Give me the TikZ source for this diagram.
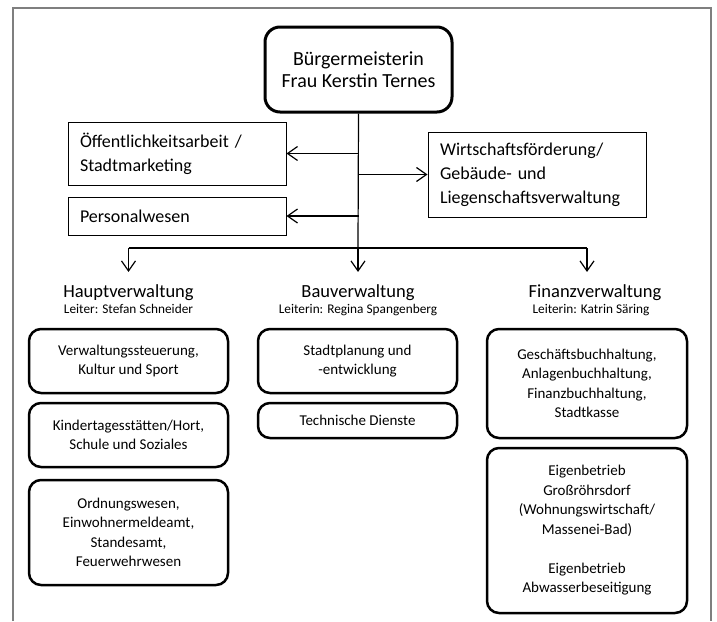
\documentclass[tikz,border=0pt]{standalone}
\usepackage{fontspec}
\setmainfont{Carlito}
\definecolor{orgGray}{HTML}{7F7F7F}
\usetikzlibrary{arrows.meta}

\begin{document}
\begin{tikzpicture}[x=1pt, y=-1pt,
  roundBox/.style={draw, line width=2.5pt, rounded corners=12pt, align=center,
    inner sep=0pt, font=\fontsize{15}{19.5}\selectfont},
  staffBox/.style={draw, line width=1pt, align=left, text width=194pt,
    inner xsep=12pt, inner ysep=0pt, font=\fontsize{18}{24}\selectfont},
  deptHead/.style={anchor=base, inner xsep=0pt, inner ysep=12pt,
    font=\fontsize{18.5}{21}\selectfont},
  deptLead/.style={anchor=base, inner sep=0pt, font=\fontsize{13.3}{16}\selectfont},
  link/.style={line width=1.2pt},
  arr/.style={link, -{Straight Barb[length=10pt, width=14pt]}}]
  \useasboundingbox (0,0) rectangle (717,621);
  % page frame, open at the bottom
  \draw[orgGray, line width=1.5pt] (13,621) -- (13,8) -- (711,8) -- (711,621);

  % head of the administration
  \node[draw, line width=3pt, rounded corners=15pt, align=center,
    minimum width=187pt, minimum height=85pt,
    font=\fontsize{20}{21.5}\selectfont] (buerg) at (358.5,69.5)
    {Bürgermeisterin\\Frau Kerstin Ternes};

  % staff units
  \node[staffBox, minimum height=63pt] (oeff) at (177,153.5)
    {Öffentlichkeitsarbeit /\\Stadtmarketing};
  \node[staffBox, minimum height=38pt] (pers) at (177,216) {Personalwesen};
  \node[staffBox, minimum height=85pt] (wirt) at (537,174.5)
    {Wirtschaftsförderung/\\Gebäude- und\\Liegenschaftsverwaltung};

  % departments
  \node[deptHead] (haupt) at (128.5,297) {Hauptverwaltung};
  \node[deptLead] (hauptLead) at (128.5,313) {Leiter: Stefan Schneider};
  \node[deptHead] (bau) at (358,297) {Bauverwaltung};
  \node[deptLead] (bauLead) at (358,313) {Leiterin: Regina Spangenberg};
  \node[deptHead] (fin) at (595,297) {Finanzverwaltung};
  \node[deptLead] (finLead) at (591,313) {Leiterin: Katrin Säring};

  % offices
  \node[roundBox, minimum width=199pt, minimum height=64pt] (verw) at (128.5,361)
    {Verwaltungssteuerung,\\Kultur und Sport};
  \node[roundBox, minimum width=199pt, minimum height=64pt] (kita) at (128.5,435)
    {Kindertagesstätten/Hort,\\Schule und Soziales};
  \node[roundBox, minimum width=199pt, minimum height=105pt] (ordn) at (128.5,532.5)
    {Ordnungswesen,\\Einwohnermeldeamt,\\Standesamt,\\Feuerwehrwesen};
  \node[roundBox, minimum width=199pt, minimum height=64pt] (plan) at (357.5,361)
    {Stadtplanung und\\-entwicklung};
  \node[roundBox, minimum width=199pt, minimum height=35pt] (tech) at (357.5,420.5)
    {Technische Dienste};
  \node[roundBox, minimum width=200pt, minimum height=109pt] (buch) at (587,383.5)
    {Geschäftsbuchhaltung,\\Anlagenbuchhaltung,\\Finanzbuchhaltung,\\Stadtkasse};
  \node[roundBox, minimum width=200pt, minimum height=165pt] (eigen) at (587,530.5)
    {Eigenbetrieb\\Großröhrsdorf\\(Wohnungswirtschaft/\\Massenei-Bad)\\[19.5pt]
     Eigenbetrieb\\Abwasserbeseitigung};

  % connectors
  \coordinate (bar) at (358,248);
  \draw[link] (buerg.south) -- (bar);
  \draw[arr] (buerg.south |- oeff.east) -- (oeff.east);
  \draw[arr] (buerg.south |- pers.east) -- (pers.east);
  \draw[arr] (buerg.south |- wirt.west) -- (wirt.west);
  \draw[link] (verw.north |- bar) -- (buch.north |- bar);
  \draw[arr] (verw.north |- bar) -- (verw.north |- haupt.north);
  \draw[arr] (bar) -- (bar |- bau.north);
  \draw[arr] (buch.north |- bar) -- (buch.north |- fin.north);
\end{tikzpicture}
\end{document}
